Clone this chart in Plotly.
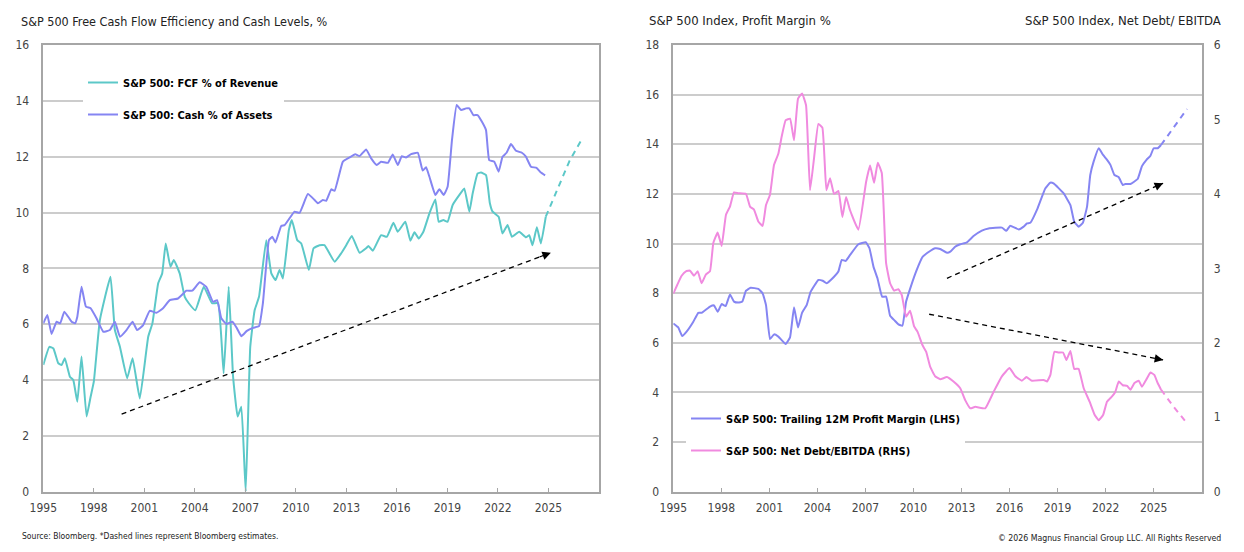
import plotly.graph_objects as go

# ---------------- DATA ----------------
fcf_years = [1995.0, 1995.36, 1995.6, 1995.89, 1996.09, 1996.28, 1996.58, 1996.78, 1997.02, 1997.27,
             1997.57, 1997.81, 1998.0, 1998.36, 1998.99, 1999.25, 1999.55, 1999.98, 2000.3, 2000.73,
             2001.23, 2001.48, 2001.82, 2002.06, 2002.27, 2002.55, 2002.75, 2003.1, 2003.4, 2003.64,
             2004.03, 2004.53, 2005.02, 2005.38, 2005.71, 2006.01, 2006.27, 2006.54, 2006.76, 2007.02,
             2007.29, 2007.55, 2007.81, 2008.24, 2008.54, 2008.79, 2009.03, 2009.23, 2009.58, 2009.76,
             2010.08, 2010.32, 2010.77, 2011.05, 2011.4, 2011.7, 2012.3, 2012.69, 2012.99, 2013.32,
             2013.78, 2014.17, 2014.31, 2014.57, 2015.06, 2015.4, 2015.79, 2016.05, 2016.5, 2016.8,
             2017.04, 2017.3, 2017.57, 2017.93, 2018.28, 2018.48, 2018.76, 2019.01, 2019.31, 2019.71,
             2020.0, 2020.3, 2020.5, 2020.79, 2020.99, 2021.29, 2021.52, 2021.68, 2022.04, 2022.27,
             2022.57, 2022.83, 2023.26, 2023.66, 2023.86, 2024.05, 2024.31, 2024.55, 2024.84]
fcf_vals = [4.54, 5.19, 5.13, 4.6, 4.54, 4.78, 4.12, 4.0, 3.22, 4.84,
            2.69, 3.4, 3.94, 6.15, 7.7, 5.79, 5.19, 4.06, 4.78, 3.34,
            5.55, 6.03, 7.46, 7.82, 8.89, 8.06, 8.3, 7.82, 6.98, 6.75,
            6.5, 7.34, 6.75, 6.75, 4.24, 7.34, 4.12, 2.69, 3.04, 0.0,
            5.19, 6.5, 6.98, 9.01, 7.82, 7.58, 7.94, 7.64, 9.37, 9.73,
            9.01, 8.89, 7.94, 8.72, 8.83, 8.83, 8.24, 8.54, 8.83, 9.16,
            8.56, 8.72, 8.8, 8.63, 9.19, 9.13, 9.63, 9.31, 9.67, 8.99,
            9.29, 9.07, 9.31, 9.97, 10.47, 9.67, 9.73, 9.67, 10.27, 10.63,
            10.86, 10.03, 10.69, 11.4, 11.43, 11.34, 10.33, 10.03, 9.85, 9.25,
            9.55, 9.13, 9.31, 9.11, 9.19, 8.83, 9.47, 8.89, 9.85]
fcf_est_years = [2024.84, 2025.5, 2026.25, 2027.0]
fcf_est_vals = [9.85, 10.8, 11.85, 12.65]

cash_years = [1995.0, 1995.24, 1995.49, 1995.79, 1996.0, 1996.25, 1996.68, 1996.88, 1997.02, 1997.27,
              1997.53, 1997.81, 1998.16, 1998.56, 1998.95, 1999.25, 1999.55, 1999.94, 2000.3, 2000.57,
              2000.93, 2001.32, 2001.72, 2002.11, 2002.51, 2003.0, 2003.5, 2003.85, 2004.29, 2004.68,
              2005.08, 2005.32, 2005.57, 2005.87, 2006.23, 2006.5, 2006.76, 2007.09, 2007.45, 2007.81,
              2008.04, 2008.4, 2008.6, 2008.79, 2009.13, 2009.33, 2009.62, 2009.92, 2010.22, 2010.71,
              2011.11, 2011.31, 2011.6, 2011.8, 2012.1, 2012.3, 2012.79, 2013.18, 2013.52, 2013.78,
              2014.17, 2014.47, 2014.8, 2015.06, 2015.46, 2015.75, 2016.05, 2016.29, 2016.54, 2016.84,
              2017.24, 2017.53, 2017.73, 2017.93, 2018.28, 2018.52, 2018.78, 2019.01, 2019.27, 2019.55,
              2019.81, 2020.1, 2020.3, 2020.54, 2020.79, 2021.05, 2021.29, 2021.48, 2021.78, 2022.04,
              2022.27, 2022.51, 2022.77, 2023.07, 2023.42, 2023.66, 2023.96, 2024.29, 2024.55, 2024.8]
cash_vals = [6.03, 6.33, 5.65, 6.09, 6.03, 6.45, 6.09, 6.03, 6.27, 7.34,
             6.63, 6.57, 6.21, 5.73, 5.79, 6.09, 5.55, 5.79, 6.09, 5.79,
             5.97, 6.48, 6.41, 6.57, 6.86, 6.92, 7.2, 7.2, 7.5, 7.34,
             6.8, 6.86, 6.21, 6.01, 6.09, 5.85, 5.57, 5.76, 5.87, 5.93,
             6.75, 9.01, 9.13, 8.93, 9.52, 9.55, 9.79, 10.03, 9.99, 10.66,
             10.45, 10.33, 10.45, 10.42, 10.83, 10.78, 11.82, 11.97, 12.09, 12.02,
             12.26, 11.94, 11.7, 11.82, 11.78, 12.08, 11.7, 12.02, 11.97, 12.09,
             12.14, 11.5, 11.62, 11.28, 10.63, 10.83, 10.63, 10.92, 12.6, 13.85,
             13.67, 13.73, 13.73, 13.49, 13.49, 13.25, 12.95, 11.88, 11.82, 11.46,
             12.0, 12.14, 12.45, 12.21, 12.14, 12.0, 11.64, 11.6, 11.43, 11.33]

margin_years = [1995.0, 1995.31, 1995.56, 1995.83, 1996.25, 1996.56, 1996.77, 1997.29, 1997.54, 1997.77,
                1998.02, 1998.27, 1998.54, 1998.79, 1999.06, 1999.31, 1999.54, 1999.83, 2000.31, 2000.58,
                2000.79, 2001.04, 2001.29, 2001.56, 2002.02, 2002.29, 2002.54, 2002.79, 2003.04, 2003.33,
                2003.58, 2004.06, 2004.33, 2004.58, 2005.04, 2005.31, 2005.52, 2005.77, 2006.04, 2006.56,
                2007.02, 2007.25, 2007.5, 2007.75, 2008.04, 2008.29, 2008.54, 2008.85, 2009.06, 2009.31,
                2009.54, 2010.04, 2010.58, 2011.04, 2011.35, 2011.67, 2012.09, 2012.3, 2012.6, 2012.92,
                2013.34, 2013.75, 2014.27, 2014.69, 2015.52, 2015.8, 2016.04, 2016.57, 2016.88, 2017.09,
                2017.3, 2017.75, 2018.23, 2018.54, 2018.75, 2019.38, 2019.8, 2020.04, 2020.31, 2020.58,
                2020.84, 2021.04, 2021.25, 2021.57, 2021.84, 2022.09, 2022.3, 2022.55, 2022.82, 2023.07,
                2023.23, 2023.55, 2024.0, 2024.27, 2024.55, 2024.8, 2025.0, 2025.25, 2025.46]
margin_vals = [6.78, 6.62, 6.27, 6.45, 6.85, 7.21, 7.21, 7.46, 7.51, 7.25,
               7.56, 7.48, 7.95, 7.66, 7.62, 7.66, 8.1, 8.22, 8.17, 7.99,
               7.52, 6.15, 6.34, 6.25, 5.95, 6.22, 7.43, 6.62, 7.21, 7.52,
               8.06, 8.53, 8.5, 8.4, 8.66, 8.87, 9.34, 9.3, 9.54, 9.97,
               10.05, 9.81, 9.07, 8.6, 7.86, 7.86, 7.09, 6.88, 6.74, 6.69,
               7.66, 8.66, 9.47, 9.7, 9.81, 9.78, 9.63, 9.67, 9.87, 9.97,
               10.05, 10.3, 10.52, 10.61, 10.64, 10.51, 10.72, 10.57, 10.68, 10.81,
               10.84, 11.42, 12.22, 12.45, 12.42, 12.02, 11.55, 10.88, 10.68, 10.84,
               11.49, 12.76, 13.3, 13.84, 13.57, 13.37, 13.17, 12.76, 12.67, 12.36,
               12.4, 12.4, 12.6, 13.12, 13.37, 13.54, 13.84, 13.84, 13.97]
margin_est_years = [2025.46, 2026.25, 2027.08]
margin_est_vals = [13.97, 14.68, 15.42]

debt_years = [1995.0, 1995.25, 1995.52, 1995.79, 1996.04, 1996.29, 1996.52, 1996.77, 1997.04, 1997.29,
              1997.5, 1997.77, 1998.02, 1998.29, 1998.54, 1998.79, 1999.06, 1999.54, 1999.79, 2000.04,
              2000.31, 2000.58, 2000.79, 2001.04, 2001.29, 2001.56, 2001.77, 2002.02, 2002.29, 2002.54,
              2002.79, 2003.04, 2003.29, 2003.54, 2003.79, 2004.06, 2004.31, 2004.56, 2004.79, 2005.04,
              2005.31, 2005.56, 2005.79, 2006.04, 2006.56, 2007.04, 2007.29, 2007.54, 2007.77, 2008.02,
              2008.29, 2008.54, 2008.79, 2009.06, 2009.27, 2009.54, 2009.79, 2010.04, 2010.25, 2010.56,
              2010.79, 2011.04, 2011.35, 2011.67, 2012.09, 2012.5, 2012.92, 2013.23, 2013.55, 2013.86,
              2014.48, 2015.0, 2015.52, 2016.0, 2016.36, 2016.77, 2017.05, 2017.4, 2018.13, 2018.34,
              2018.55, 2018.8, 2019.07, 2019.34, 2019.55, 2019.8, 2020.04, 2020.31, 2020.63, 2021.0,
              2021.32, 2021.57, 2021.84, 2022.09, 2022.4, 2022.6, 2022.82, 2023.07, 2023.34, 2023.55,
              2023.8, 2024.07, 2024.27, 2024.55, 2024.8, 2025.04, 2025.25, 2025.46]
debt_vals = [2.66, 2.78, 2.9, 2.96, 2.97, 2.9, 2.96, 2.8, 2.92, 2.96,
             3.34, 3.48, 3.3, 3.72, 3.83, 4.02, 4.01, 4.0, 3.83, 3.79,
             3.63, 3.57, 3.85, 3.99, 4.39, 4.54, 4.77, 4.99, 5.01, 4.72,
             5.28, 5.35, 5.19, 4.05, 4.48, 4.94, 4.89, 4.05, 4.21, 4.0,
             4.04, 3.69, 3.96, 3.78, 3.52, 4.16, 4.38, 4.15, 4.42, 4.28,
             3.07, 2.8, 2.7, 2.72, 2.64, 2.35, 2.43, 2.22, 2.15, 1.97,
             1.88, 1.68, 1.55, 1.51, 1.54, 1.48, 1.39, 1.23, 1.12, 1.14,
             1.12, 1.34, 1.55, 1.66, 1.55, 1.49, 1.54, 1.49, 1.5, 1.48,
             1.57, 1.88, 1.87, 1.87, 1.77, 1.89, 1.65, 1.65, 1.39, 1.21,
             1.03, 0.96, 1.03, 1.21, 1.28, 1.34, 1.48, 1.43, 1.42, 1.37,
             1.46, 1.49, 1.41, 1.51, 1.6, 1.57, 1.46, 1.37]
debt_est_years = [2025.46, 2026.25, 2027.08]
debt_est_vals = [1.37, 1.14, 0.92]

# trend arrows: [start, end]
trend_left_x = [1999.65, 2025.14]
trend_left_y = [2.78, 8.56]
trend_up_x = [2012.09, 2025.59]
trend_up_y = [8.6, 12.43]
trend_down_x = [2010.98, 2025.59]
trend_down_y = [7.15, 5.31]

year_ticks = [1995, 1998, 2001, 2004, 2007, 2010, 2013, 2016, 2019, 2022, 2025]
left_y_ticks = [0, 2, 4, 6, 8, 10, 12, 14, 16]
right_lhs_ticks = [0, 2, 4, 6, 8, 10, 12, 14, 16, 18]
right_rhs_ticks = [0, 1, 2, 3, 4, 5, 6]

# ---------------- STYLE ----------------
W, H = 1244, 552
FONT = "Liberation Sans Narrow, Arial Narrow, DejaVu Sans Condensed, sans-serif"
TXT = "#222222"
TEAL = "#5CC8C8"
PURPLE = "#8585F2"
PINK = "#F08ADF"
GRID = "#CCCCCC"
AX = "#A6A6A6"
SM = 0.35

def px_x(v):
    return v / W

def px_y(v):
    return 1 - v / H

fig = go.Figure()

# left chart
fig.add_trace(go.Scatter(x=fcf_years, y=fcf_vals, mode="lines", name="<b>S&P 500: FCF % of Revenue</b>",
                         line=dict(color=TEAL, width=2, shape="spline", smoothing=SM),
                         xaxis="x", yaxis="y", legend="legend", legendgroup="a"))
fig.add_trace(go.Scatter(x=cash_years, y=cash_vals, mode="lines", name="<b>S&P 500: Cash % of Assets</b>",
                         line=dict(color=PURPLE, width=2, shape="spline", smoothing=SM),
                         xaxis="x", yaxis="y", legend="legend", legendgroup="b"))
fig.add_trace(go.Scatter(x=fcf_est_years, y=fcf_est_vals, mode="lines", showlegend=False,
                         line=dict(color=TEAL, width=2, dash="6px,5px"), xaxis="x", yaxis="y"))
fig.add_trace(go.Scatter(x=trend_left_x, y=trend_left_y, mode="lines", showlegend=False,
                         line=dict(color="black", width=1.3, dash="5px,4px"), xaxis="x", yaxis="y"))

# right chart
fig.add_trace(go.Scatter(x=margin_years, y=margin_vals, mode="lines",
                         name="<b>S&P 500: Trailing 12M Profit Margin (LHS)</b>",
                         line=dict(color=PURPLE, width=2, shape="spline", smoothing=SM),
                         xaxis="x2", yaxis="y2", legend="legend2", legendgroup="c"))
fig.add_trace(go.Scatter(x=debt_years, y=debt_vals, mode="lines",
                         name="<b>S&P 500: Net Debt/EBITDA (RHS)</b>",
                         line=dict(color=PINK, width=2, shape="spline", smoothing=SM),
                         xaxis="x2", yaxis="y3", legend="legend2", legendgroup="d"))
fig.add_trace(go.Scatter(x=margin_est_years, y=margin_est_vals, mode="lines", showlegend=False,
                         line=dict(color=PURPLE, width=2, dash="6px,5px"), xaxis="x2", yaxis="y2"))
fig.add_trace(go.Scatter(x=debt_est_years, y=debt_est_vals, mode="lines", showlegend=False,
                         line=dict(color=PINK, width=2, dash="6px,5px"), xaxis="x2", yaxis="y3"))
fig.add_trace(go.Scatter(x=trend_up_x, y=trend_up_y, mode="lines", showlegend=False,
                         line=dict(color="black", width=1.3, dash="5px,4px"), xaxis="x2", yaxis="y2"))
fig.add_trace(go.Scatter(x=trend_down_x, y=trend_down_y, mode="lines", showlegend=False,
                         line=dict(color="black", width=1.3, dash="5px,4px"), xaxis="x2", yaxis="y2"))

annotations = []

def arrow_head(xs, ys, xa, ya):
    f = 0.97
    annotations.append(dict(x=xs[1], y=ys[1], ax=xs[0] + (xs[1] - xs[0]) * f,
                            ay=ys[0] + (ys[1] - ys[0]) * f, xref=xa, yref=ya, axref=xa, ayref=ya,
                            showarrow=True, arrowhead=2, arrowsize=1.3, arrowwidth=1.3,
                            arrowcolor="black", text=""))

arrow_head(trend_left_x, trend_left_y, "x", "y")
arrow_head(trend_up_x, trend_up_y, "x2", "y2")
arrow_head(trend_down_x, trend_down_y, "x2", "y2")

# titles and footers
annotations += [
    dict(text="S&P 500 Free Cash Flow Efficiency and Cash Levels, %", x=px_x(19), y=px_y(22),
         xref="paper", yref="paper", xanchor="left", yanchor="middle", showarrow=False,
         font=dict(size=12.5, color=TXT, family=FONT)),
    dict(text="S&P 500 Index, Profit Margin %", x=px_x(647), y=px_y(20),
         xref="paper", yref="paper", xanchor="left", yanchor="middle", showarrow=False,
         font=dict(size=13, color=TXT, family=FONT)),
    dict(text="S&P 500 Index, Net Debt/ EBITDA", x=px_x(1223), y=px_y(20),
         xref="paper", yref="paper", xanchor="right", yanchor="middle", showarrow=False,
         font=dict(size=13, color=TXT, family=FONT)),
    dict(text="Source: Bloomberg. *Dashed lines represent Bloomberg estimates.", x=px_x(20), y=px_y(536),
         xref="paper", yref="paper", xanchor="left", yanchor="middle", showarrow=False,
         font=dict(size=8.5, color=TXT, family=FONT)),
    dict(text="© 2026 Magnus Financial Group LLC. All Rights Reserved", x=px_x(1223), y=px_y(538),
         xref="paper", yref="paper", xanchor="right", yanchor="middle", showarrow=False,
         font=dict(size=8.7, color=TXT, family=FONT)),
]

tickfont = dict(size=12, color="#444444", family=FONT)
ydom = [px_y(491.7), px_y(45)]

common_x = dict(range=[1995, 2028], tickvals=year_ticks, ticks="inside", ticklen=4, tickcolor=AX,
                showgrid=False, showline=True, linecolor=AX, linewidth=1.5, mirror=True,
                tickfont=tickfont, zeroline=False, ticklabelstandoff=4, automargin=False)

fig.update_layout(
    width=W, height=H, autosize=False,
    margin=dict(l=0, r=0, t=0, b=0),
    paper_bgcolor="white", plot_bgcolor="white",
    font=dict(family=FONT, color=TXT),
    showlegend=True,
    xaxis=dict(domain=[px_x(43.3), px_x(599)], anchor="y", **common_x),
    yaxis=dict(domain=ydom, range=[0, 16], tickvals=left_y_ticks, anchor="x",
               showgrid=True, gridcolor=GRID, gridwidth=1.5, showline=True, linecolor=AX,
               linewidth=1.5, mirror=True, ticks="", tickfont=tickfont, zeroline=False,
               ticklabelstandoff=10, automargin=False),
    xaxis2=dict(domain=[px_x(673.3), px_x(1201.7)], anchor="y2", **common_x),
    yaxis2=dict(domain=ydom, range=[0, 18], tickvals=right_lhs_ticks, anchor="x2",
                showgrid=True, gridcolor=GRID, gridwidth=1.5, showline=True, linecolor=AX,
                linewidth=1.5, mirror=True, ticks="", tickfont=tickfont, zeroline=False,
                ticklabelstandoff=10, automargin=False),
    yaxis3=dict(range=[0, 6], tickvals=right_rhs_ticks, anchor="x2", overlaying="y2", side="right",
                showgrid=False, showline=False, ticks="", tickfont=tickfont, zeroline=False,
                ticklabelstandoff=11, automargin=False),
    legend=dict(x=px_x(83), y=px_y(68), xanchor="left", yanchor="top", bgcolor="white",
                borderwidth=0, font=dict(size=11, color="black", family=FONT),
                tracegroupgap=13, itemwidth=30),
    legend2=dict(x=px_x(686), y=px_y(404), xanchor="left", yanchor="top", bgcolor="white",
                 borderwidth=0, font=dict(size=11, color="black", family=FONT),
                 tracegroupgap=13, itemwidth=30),
    annotations=annotations,
)

fig.write_html("out.html", config={"displayModeBar": False},
               post_script="document.body.style.margin='0';document.body.style.padding='0';")
